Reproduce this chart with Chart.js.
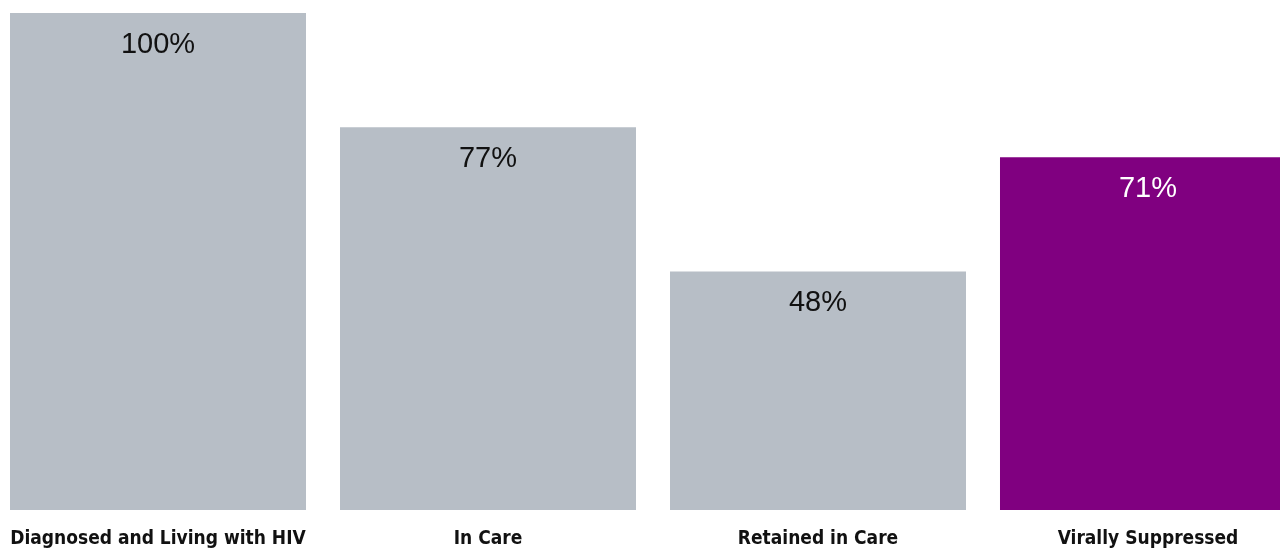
<!DOCTYPE html>
<html>
<head>
<meta charset="utf-8">
<script src="https://cdn.jsdelivr.net/npm/chart.js@4/dist/chart.umd.min.js"></script>
<style>
  html, body { margin: 0; padding: 0; background: #fff; overflow: hidden; }
  .wrap { position: absolute; left: -7px; top: 0; width: 1320px; height: 556px; }
</style>
</head>
<body>
<div class="wrap"><canvas id="cascade"></canvas></div>
<script>
const stages = ["Diagnosed and Living with HIV", "In Care", "Retained in Care", "Virally Suppressed"];
const percents = [100, 77, 48, 71];
const barColors = ["#b7bec6", "#b7bec6", "#b7bec6", "#800080"];
const labelColors = ["#111111", "#111111", "#111111", "#ffffff"];

// writes the percentage inside the top of each bar
const valueLabels = {
    id: 'valueLabels',
    afterDatasetsDraw(chart) {
        const ctx = chart.ctx;
        const meta = chart.getDatasetMeta(0);
        ctx.save();
        ctx.font = '29px "Liberation Sans", Arial, sans-serif';
        ctx.textAlign = 'center';
        ctx.textBaseline = 'top';
        meta.data.forEach(function (bar, i) {
            ctx.fillStyle = labelColors[i];
            ctx.fillText(percents[i] + '%', bar.x, bar.y + 17);
        });
        ctx.restore();
    }
};

const ctx = document.getElementById('cascade').getContext('2d');
const cascadeChart = new Chart(ctx, {
    type: 'bar',
    data: {
        labels: stages,
        datasets: [{
            data: percents,
            backgroundColor: barColors,
            borderWidth: 0,
            categoryPercentage: 1,
            barPercentage: 0.897
        }]
    },
    options: {
        responsive: true,
        maintainAspectRatio: false,
        animation: false,
        layout: { padding: { top: 13, left: 0, right: 0, bottom: 0 } },
        plugins: {
            legend: { display: false },
            tooltip: { enabled: false }
        },
        scales: {
            x: {
                afterFit(scale) {
                    scale.height = 46;
                    scale.paddingLeft = 0;
                    scale.paddingRight = 0;
                },
                grid: { display: false, drawTicks: false },
                border: { display: false },
                ticks: {
                    autoSkip: false,
                    maxRotation: 0,
                    padding: 18,
                    color: '#111111',
                    font: { family: '"Liberation Sans Narrow", "DejaVu Sans Condensed", sans-serif', size: 19, weight: 'bold' }
                }
            },
            y: {
                display: false,
                min: 0,
                max: 100
            }
        }
    },
    plugins: [valueLabels]
});
</script>
</body>
</html>
